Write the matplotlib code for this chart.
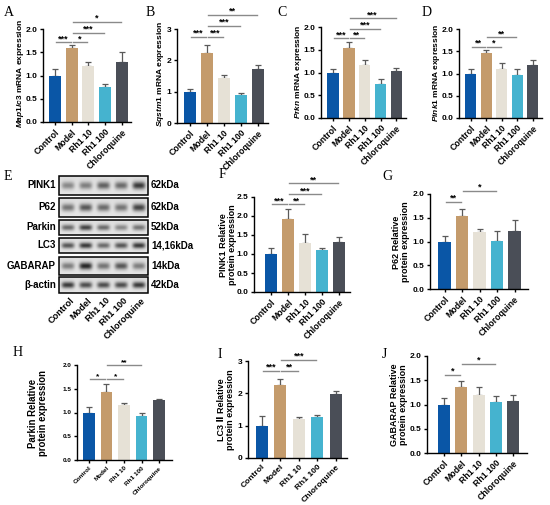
import numpy as np
import matplotlib
matplotlib.use("Agg")
import matplotlib.pyplot as plt
from matplotlib.patches import Rectangle

plt.rcParams['font.family'] = ['Liberation Sans', 'DejaVu Sans']
plt.rcParams['font.weight'] = 'bold'
plt.rcParams['mathtext.fontset'] = 'custom'
plt.rcParams['mathtext.it'] = 'Liberation Sans:italic:bold'
plt.rcParams['mathtext.rm'] = 'Liberation Sans:bold'
plt.rcParams['mathtext.bf'] = 'Liberation Sans:bold'

W, H = 550, 505
fig = plt.figure(figsize=(5.5, 5.05), dpi=100)

groups = ['Control', 'Model', 'Rh1 10', 'Rh1 100', 'Chloroquine']
colors = ['#0A56A6', '#C49B6C', '#E6E1D6', '#45B3CF', '#4A4E57']

# ---- data ----
A_mean = [1.00, 1.60, 1.20, 0.76, 1.30]
A_err = [0.13, 0.05, 0.10, 0.05, 0.21]
A_sig = [(0, 1, 1.71, '***'), (1, 2, 1.71, '*'), (1, 3, 1.92, '***'), (1, 4, 2.16, '*')]

B_mean = [1.00, 2.25, 1.45, 0.90, 1.73]
B_err = [0.10, 0.25, 0.08, 0.05, 0.13]
B_sig = [(0, 1, 2.75, '***'), (1, 2, 2.75, '***'), (1, 3, 3.10, '***'), (1, 4, 3.45, '**')]

C_mean = [1.00, 1.53, 1.17, 0.74, 1.04]
C_err = [0.08, 0.14, 0.10, 0.11, 0.05]
C_sig = [(0, 1, 1.75, '***'), (1, 2, 1.75, '**'), (1, 3, 1.96, '***'), (1, 4, 2.19, '***')]

D_mean = [1.00, 1.45, 1.09, 0.97, 1.19]
D_err = [0.10, 0.07, 0.15, 0.14, 0.12]
D_sig = [(0, 1, 1.60, '**'), (1, 2, 1.60, '*'), (1, 3, 1.81, '**')]

F_mean = [1.00, 1.91, 1.30, 1.10, 1.31]
F_err = [0.15, 0.27, 0.22, 0.05, 0.15]
F_sig = [(0, 1, 2.31, '***'), (1, 2, 2.31, '**'), (1, 3, 2.57, '***'), (1, 4, 2.86, '**')]

G_mean = [1.00, 1.54, 1.20, 1.01, 1.23]
G_err = [0.12, 0.15, 0.07, 0.22, 0.23]
G_sig = [(0, 1, 1.84, '**'), (1, 3, 2.07, '*')]

H_mean = [1.00, 1.43, 1.15, 0.93, 1.26]
H_err = [0.11, 0.17, 0.06, 0.05, 0.03]
H_sig = [(0, 1, 1.70, '*'), (1, 2, 1.70, '*'), (1, 3, 2.00, '**')]

I_mean = [1.00, 2.25, 1.22, 1.28, 1.98]
I_err = [0.30, 0.18, 0.05, 0.06, 0.10]
I_sig = [(0, 1, 2.69, '***'), (1, 2, 2.69, '**'), (1, 3, 3.03, '***')]

J_mean = [1.00, 1.37, 1.20, 1.05, 1.08]
J_err = [0.14, 0.12, 0.17, 0.12, 0.11]
J_sig = [(0, 1, 1.61, '*'), (1, 3, 1.84, '*')]

blot_proteins = ['PINK1', 'P62', 'Parkin', 'LC3', 'GABARAP', 'β-actin']
blot_kda = ['62kDa', '62kDa', '52kDa', '14,16kDa', '14kDa', '42kDa']
blot_intensity = [
    [0.45, 0.50, 0.65, 0.60, 0.85],
    [0.55, 0.70, 0.60, 0.55, 0.80],
    [0.60, 0.80, 0.60, 0.45, 0.55],
    [0.70, 0.85, 0.60, 0.70, 0.85],
    [0.50, 0.95, 0.55, 0.70, 0.50],
    [0.85, 0.75, 0.75, 0.75, 0.85],
]


def fx(x):
    return x / W


def fy(y):
    return 1 - y / H


def bar_panel(box, mean, err, sig, ylim, yticks, yfmt, xlim, ylabel, ylab_xy,
              tick_fs=6.0, xtick_fs=6.3, ylab_fs=6.0, width=0.72, star_fs=6.5):
    x0, y0, x1, y1 = box
    ax = fig.add_axes([fx(x0), fy(y1), (x1 - x0) / W, (y1 - y0) / H])
    xs = np.arange(len(groups))
    ax.errorbar(xs, mean, yerr=[np.zeros(len(err)), err], fmt='none',
                ecolor='#5a5a5a', elinewidth=0.9, capsize=2.5, capthick=0.9, zorder=1)
    ax.bar(xs, mean, width=width, color=colors, zorder=2)
    ax.set_xlim(*xlim)
    ax.set_ylim(*ylim)
    ax.set_yticks(yticks)
    ax.set_yticklabels([yfmt.format(v) for v in yticks], fontsize=tick_fs, fontweight='bold')
    ax.set_xticks(xs)
    ax.set_xticklabels(groups, rotation=45, ha='right', rotation_mode='anchor',
                       fontsize=xtick_fs, fontweight='bold')
    for s in ['top', 'right']:
        ax.spines[s].set_visible(False)
    for s in ['left', 'bottom']:
        ax.spines[s].set_linewidth(1.0)
    ax.tick_params(axis='both', length=2.5, width=1.0, pad=1.5)
    for (i, j, yv, lab) in sig:
        a = i + 0.06
        b = j - 0.06
        ax.plot([a, b], [yv, yv], color='#8a8a8a', lw=1.0, clip_on=False, zorder=3)
        ax.annotate(lab, xy=((a + b) / 2, yv), xytext=(0, -0.6), textcoords='offset points',
                    ha='center', va='bottom', fontsize=star_fs, fontweight='bold',
                    annotation_clip=False)
    fig.text(fx(ylab_xy[0]), fy(ylab_xy[1]), ylabel, rotation=90, ha='center', va='center',
             fontsize=ylab_fs, fontweight='bold', multialignment='center', linespacing=1.05)
    return ax


# Panel A-D
bar_panel((43, 29, 131, 122), A_mean, A_err, A_sig, (0, 2.0), [0, 0.5, 1.0, 1.5, 2.0], '{:.1f}',
          (-0.72, 4.55), r'$\it{Map1lc3}$ mRNA expression', (21, 73))
bar_panel((177, 29, 268, 123), B_mean, B_err, B_sig, (0, 3), [0, 1, 2, 3], '{:.0f}',
          (-0.76, 4.6), r'$\it{Sqstm1}$ mRNA expression', (161, 74))
bar_panel((321, 27, 406, 118), C_mean, C_err, C_sig, (0, 2.0), [0, 0.5, 1.0, 1.5, 2.0], '{:.1f}',
          (-0.75, 4.6), r'$\it{Prkn}$ mRNA expression', (298, 72))
bar_panel((459, 29, 542, 118), D_mean, D_err, D_sig, (0, 2.0), [0, 0.5, 1.0, 1.5, 2.0], '{:.1f}',
          (-0.75, 4.6), r'$\it{Pink1}$ mRNA expression', (436, 73))

# Panel F, G
bar_panel((254, 197, 350, 292), F_mean, F_err, F_sig, (0, 2.5), [0, 0.5, 1.0, 1.5, 2.0, 2.5], '{:.1f}',
          (-1.0, 4.65), 'PINK1 Relative\nprotein expression', (228, 245), width=0.7, ylab_fs=6.5)
bar_panel((430, 194, 528, 289), G_mean, G_err, G_sig, (0, 2.0), [0, 0.5, 1.0, 1.5, 2.0], '{:.1f}',
          (-0.83, 4.77), 'P62 Relative\nprotein expression', (401, 242), width=0.74, ylab_fs=6.5)

# Panel H, I, J
bar_panel((77, 365, 172, 460), H_mean, H_err, H_sig, (0, 2.0), [0, 0.5, 1.0, 1.5, 2.0], '{:.1f}',
          (-0.67, 4.73), 'Parkin Relative\nprotein expression', (38, 413),
          tick_fs=4.6, xtick_fs=4.6, ylab_fs=6.9, width=0.66, star_fs=6.0)
bar_panel((248, 361, 347, 458), I_mean, I_err, I_sig, (0, 3), [0, 1, 2, 3], '{:.0f}',
          (-0.75, 4.6), 'LC3 Ⅱ Relative\nprotein expression', (226, 410), width=0.64,
          xtick_fs=6.0, ylab_fs=6.5)
bar_panel((427, 356, 527, 453), J_mean, J_err, J_sig, (0, 2.0), [0, 0.5, 1.0, 1.5, 2.0], '{:.1f}',
          (-0.99, 4.81), 'GABARAP Relative\nprotein expression', (399, 405), width=0.7,
          ylab_fs=6.5)

# Panel E: western blot
bx0, bx1 = 59, 148
rows_y = [(176, 195), (198, 217), (220, 235), (238, 253), (257, 275), (277, 293)]
bax = fig.add_axes([fx(bx0 - 1), fy(296), (bx1 - bx0 + 2) / W, (296 - 174) / H])
bax.set_xlim(bx0 - 1, bx1 + 1)
bax.set_ylim(296, 174)
bax.axis('off')
nl = len(groups)
xg = np.linspace(0, nl, 240)
for r, (ya, yb) in enumerate(rows_y):
    yg = np.linspace(0, 1, 40)
    X, Y = np.meshgrid(xg, yg)
    img = np.full(X.shape, 0.90) - 0.03 * (1 - Y)
    py = np.exp(-((Y - 0.5) / 0.2) ** 2)
    for k, inten in enumerate(blot_intensity[r]):
        px = np.exp(-((X - (k + 0.5)) / 0.36) ** 4)
        img = img - 0.78 * inten * px * py
    bax.imshow(img, extent=(bx0, bx1, yb, ya), cmap='gray', vmin=0, vmax=1,
               aspect='auto', interpolation='bilinear')
    bax.add_patch(Rectangle((bx0, ya), bx1 - bx0, yb - ya, fill=False, ec='black', lw=1.1))
    yc = (ya + yb) / 2
    fig.text(fx(56), fy(yc), blot_proteins[r], ha='right', va='center', fontsize=7, fontweight='bold')
    fig.text(fx(151), fy(yc), blot_kda[r], ha='left', va='center', fontsize=7, fontweight='bold')
lane_w = (bx1 - bx0) / nl
for k, g in enumerate(groups):
    fig.text(fx(bx0 + (k + 0.5) * lane_w + 2), fy(296), g, rotation=45, ha='right', va='top',
             rotation_mode='anchor', fontsize=6.6, fontweight='bold')

# Panel letters
letters = [('A', 9, 12), ('B', 150, 12), ('C', 282, 12), ('D', 427, 12), ('E', 8, 176),
           ('F', 222, 175), ('G', 387, 176), ('H', 18, 353), ('I', 220, 355), ('J', 384, 355)]
for t, x, y in letters:
    fig.text(fx(x), fy(y), t, ha='center', va='center', fontsize=10, fontweight='normal',
             family=['Liberation Serif', 'DejaVu Serif'])

fig.savefig('out.png', dpi=100)
